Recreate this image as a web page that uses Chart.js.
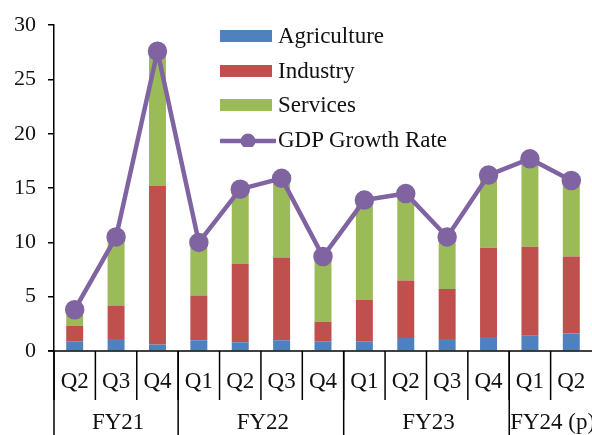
<!DOCTYPE html>
<html>
<head>
<meta charset="utf-8">
<script src="https://cdn.jsdelivr.net/npm/chart.js@4/dist/chart.umd.min.js"></script>
<style>
  body { margin: 0; background: #fff; }
  #wrap { position: relative; width: 592px; height: 435px; }
  #legend { position: absolute; left: 220px; top: 19px; font-family: "Liberation Serif", serif; font-size: 23px; color: #111; }
  .item { height: 34.5px; display: flex; align-items: center; }
  .box { width: 52px; height: 12px; margin-right: 6px; }
  .mark { position: relative; width: 56px; height: 14px; margin-right: 2px; }
</style>
</head>
<body>
<div id="wrap">
  <canvas id="chart" width="592" height="435"></canvas>
  <div id="legend"></div>
</div>
<script>
const quarters = ["Q2", "Q3", "Q4", "Q1", "Q2", "Q3", "Q4", "Q1", "Q2", "Q3", "Q4", "Q1", "Q2"];
const years = ["FY21", "FY22", "FY23", "FY24 (p)"];
const quartersPerYear = [3, 4, 4, 2];

const agriculture = [0.9, 1.1, 0.6, 1.0, 0.8, 1.0, 0.9, 0.9, 1.2, 1.1, 1.3, 1.4, 1.6];
const industry    = [1.4, 3.1, 14.6, 4.1, 7.2, 7.6, 1.8, 3.8, 5.3, 4.6, 8.2, 8.2, 7.1];
const services    = [1.6, 6.3, 12.4, 4.9, 6.9, 7.3, 6.0, 9.2, 8.0, 4.8, 6.8, 8.1, 7.0];
const gdpGrowth   = [3.8, 10.5, 27.6, 10.0, 14.9, 15.9, 8.7, 13.9, 14.5, 10.5, 16.2, 17.7, 15.7];

const font = "Liberation Serif";

// x axis line, quarter labels, year labels and the separators below it
const yearGroups = {
    id: "yearGroups",
    afterDraw(chart) {
        const ctx = chart.ctx;
        const x = chart.scales.x;
        const half = (x.getPixelForTick(1) - x.getPixelForTick(0)) / 2;
        const top = chart.chartArea.bottom;
        ctx.save();
        ctx.strokeStyle = "#000";
        ctx.lineWidth = 1.5;
        ctx.beginPath();
        ctx.moveTo(chart.chartArea.left - 6, top);
        ctx.lineTo(chart.chartArea.right, top);
        ctx.stroke();
        ctx.fillStyle = "#111";
        ctx.font = "23px '" + font + "'";
        ctx.textAlign = "center";
        ctx.textBaseline = "middle";
        quarters.forEach((q, i) => {
            const c = x.getPixelForTick(i);
            ctx.fillText(q, c, top + 31);
            ctx.beginPath();
            ctx.moveTo(c - half, top);
            ctx.lineTo(c - half, top + 49);
            ctx.stroke();
        });
        let start = 0;
        years.forEach((yr, i) => {
            const end = start + quartersPerYear[i] - 1;
            const left = x.getPixelForTick(start) - half;
            const right = x.getPixelForTick(end) + half;
            ctx.beginPath();
            ctx.moveTo(left, top);
            ctx.lineTo(left, chart.height);
            ctx.stroke();
            ctx.fillText(yr, (left + right) / 2 + 2, top + 72);
            start = end + 1;
        });
        ctx.restore();
    }
};

const chart = new Chart(document.getElementById("chart"), {
    data: {
        labels: quarters,
        datasets: [
            {type: "line", label: "GDP Growth Rate", data: gdpGrowth, stack: "gdp",
             borderColor: "#8064A2", backgroundColor: "#8064A2", borderWidth: 4.5,
             pointRadius: 7.5, pointHoverRadius: 7.5, order: 0, clip: false},
            {type: "bar", label: "Agriculture", data: agriculture, stack: "gva",
             backgroundColor: "#4F81BD", order: 1},
            {type: "bar", label: "Industry", data: industry, stack: "gva",
             backgroundColor: "#C0504D", order: 1},
            {type: "bar", label: "Services", data: services, stack: "gva",
             backgroundColor: "#9BBB59", order: 1}
        ]
    },
    options: {
        responsive: false,
        animation: false,
        layout: {autoPadding: false, padding: {left: 2, right: 0, top: 14, bottom: 84}},
        datasets: {bar: {barPercentage: 0.41, categoryPercentage: 1}},
        plugins: {legend: {display: false}, tooltip: {enabled: false}},
        scales: {
            x: {
                display: false,
                stacked: true
            },
            y: {
                stacked: true,
                min: 0, max: 30,
                border: {color: "#000", width: 1.5},
                grid: {display: true, drawOnChartArea: false, tickLength: 6,
                       color: "#000", lineWidth: 1.5},
                ticks: {stepSize: 5, color: "#111", padding: 12, font: {family: font, size: 22}}
            }
        }
    },
    plugins: [yearGroups]
});

// legend in the same order as the reference: bars first, then the line
const legend = document.getElementById("legend");
[1, 2, 3, 0].forEach(i => {
    const ds = chart.data.datasets[i];
    const item = document.createElement("div");
    item.className = "item";
    let key;
    if (ds.type === "bar") {
        key = '<div class="box" style="background:' + ds.backgroundColor + '"></div>';
    } else {
        key = '<svg class="mark" width="56" height="16"><line x1="1" y1="8" x2="55" y2="8" stroke="' +
              ds.borderColor + '" stroke-width="4.5" stroke-linecap="round"/><circle cx="28" cy="8" r="7.5" fill="' +
              ds.borderColor + '"/></svg>';
    }
    item.innerHTML = key + "<span>" + ds.label + "</span>";
    legend.appendChild(item);
});
</script>
</body>
</html>
